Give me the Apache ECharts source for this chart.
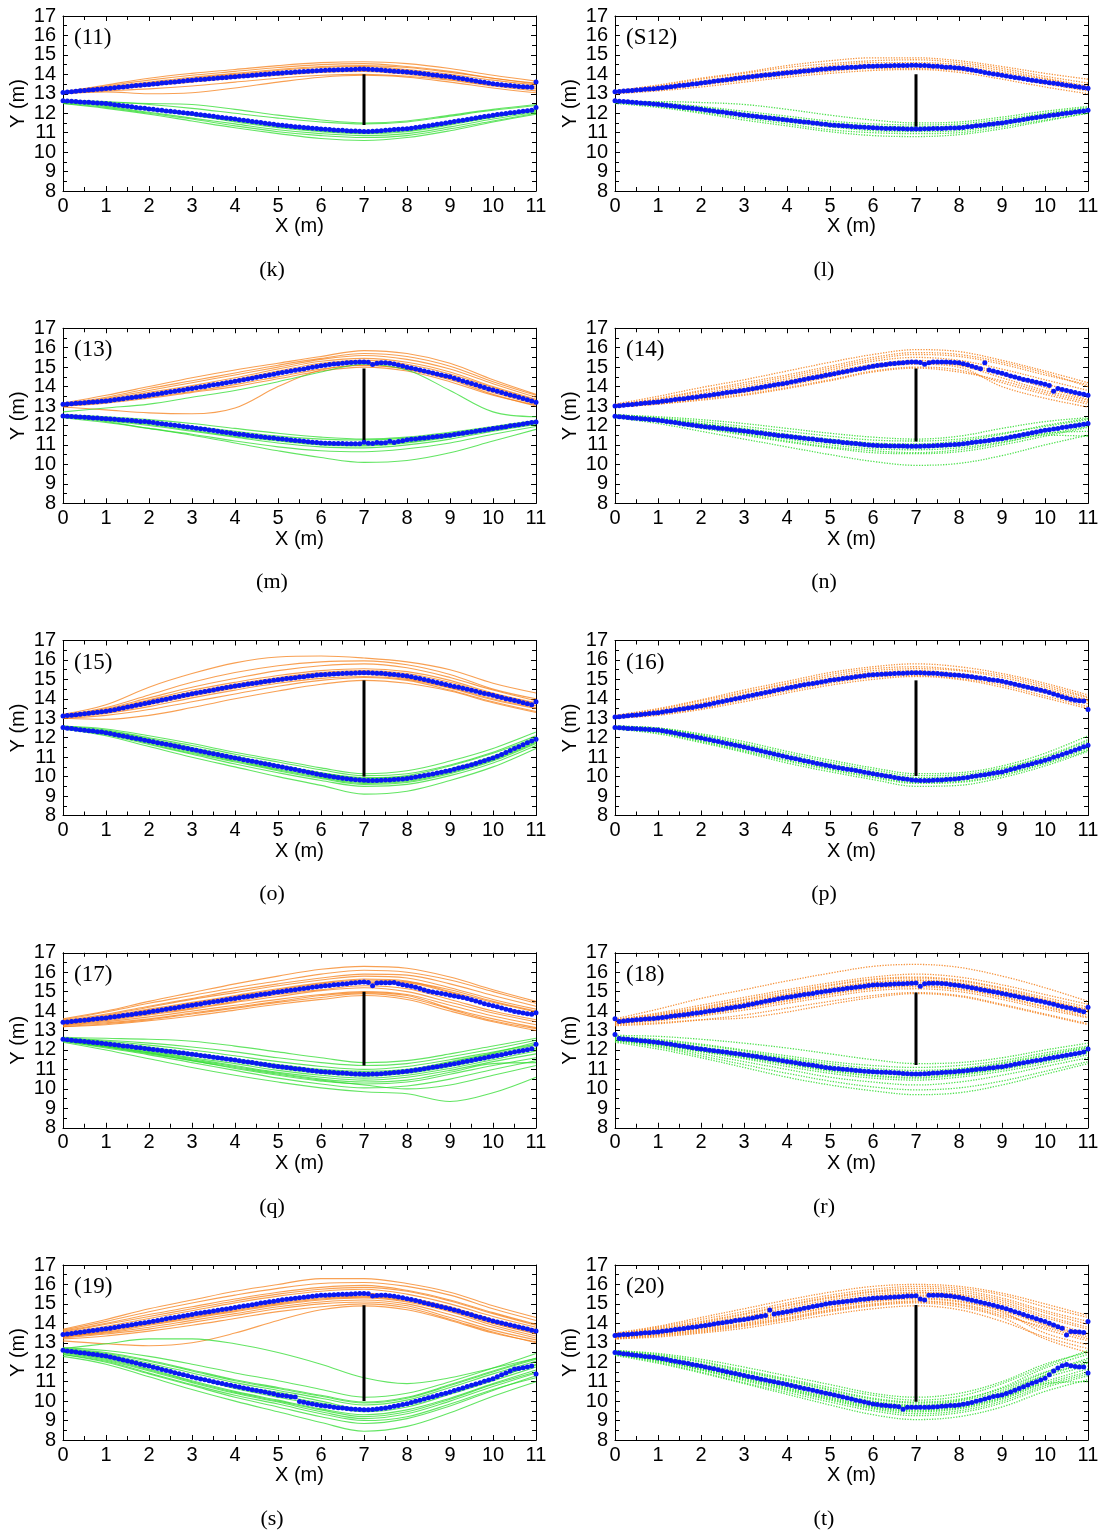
<!DOCTYPE html>
<html><head><meta charset="utf-8">
<script src="https://cdn.jsdelivr.net/npm/echarts@6/dist/echarts.min.js"></script>
<style>html,body{margin:0;padding:0;background:#fff}#c{width:1105px;height:1533px}</style>
</head><body><div id="c"></div><script>
// ---------- shared sample positions ----------
const PATH_X = [0,1,2,3,4,5,6,7,8,9,10,11];
const MEAN_STEP = 0.1;
const X_TICKS = [0,1,2,3,4,5,6,7,8,9,10,11];
const Y_TICKS = [8,9,10,11,12,13,14,15,16,17];

// ---------- panel (k) (11) ----------
const k_bar = [11.4, 14.0];
const k_mean_orange = [
13.07,13.09,13.11,13.13,13.15,13.17,13.19,13.21,13.23,13.25,
13.27,13.29,13.31,13.33,13.35,13.38,13.40,13.42,13.44,13.46,
13.48,13.50,13.52,13.55,13.57,13.59,13.61,13.63,13.66,13.68,
13.70,13.72,13.74,13.75,13.77,13.79,13.81,13.83,13.84,13.86,
13.88,13.90,13.92,13.93,13.95,13.97,13.99,14.01,14.02,14.04,
14.06,14.07,14.09,14.10,14.12,14.13,14.14,14.16,14.17,14.19,
14.20,14.21,14.22,14.22,14.23,14.24,14.25,14.25,14.26,14.27,
14.27,14.26,14.25,14.23,14.22,14.20,14.18,14.16,14.14,14.13,
14.12,14.10,14.08,14.05,14.03,14.00,13.97,13.95,13.92,13.90,
13.87,13.84,13.80,13.77,13.73,13.70,13.66,13.62,13.59,13.55,
13.52,13.49,13.46,13.44,13.42,13.40,13.38,13.36,13.35,13.33,
13.60];
const k_mean_green = [
12.64,12.63,12.61,12.60,12.58,12.57,12.56,12.54,12.53,12.51,
12.50,12.47,12.44,12.41,12.39,12.36,12.33,12.30,12.27,12.25,
12.22,12.20,12.17,12.15,12.12,12.10,12.08,12.05,12.03,12.00,
11.98,11.95,11.92,11.90,11.87,11.84,11.81,11.78,11.76,11.73,
11.70,11.67,11.64,11.61,11.58,11.55,11.52,11.49,11.46,11.43,
11.40,11.38,11.35,11.33,11.31,11.29,11.27,11.25,11.23,11.21,
11.19,11.17,11.16,11.14,11.13,11.12,11.10,11.09,11.08,11.07,
11.06,11.06,11.07,11.08,11.10,11.12,11.14,11.16,11.18,11.19,
11.20,11.23,11.26,11.29,11.33,11.36,11.40,11.43,11.46,11.50,
11.53,11.57,11.61,11.64,11.68,11.72,11.75,11.79,11.83,11.86,
11.90,11.93,11.96,11.99,12.02,12.04,12.07,12.10,12.13,12.15,
12.30];
const k_paths_orange = [
[13.05,13.3,13.55,13.8,14.0,14.2,14.35,14.4,14.25,14.0,13.7,13.45],
[13.1,13.4,13.7,13.95,14.15,14.35,14.5,14.55,14.4,14.15,13.8,13.55],
[13.0,13.2,13.4,13.6,13.8,13.95,14.1,14.15,14.0,13.75,13.45,13.25],
[13.05,13.15,13.25,13.4,13.6,13.8,13.95,14.0,13.9,13.7,13.4,13.15],
[13.1,13.45,13.8,14.05,14.25,14.45,14.6,14.65,14.55,14.3,13.95,13.65],
[13.0,13.1,13.0,13.05,13.3,13.6,13.85,13.95,13.85,13.6,13.3,13.05],
[13.05,13.25,13.5,13.75,13.95,14.1,14.25,14.3,14.2,13.85,13.55,13.35],
[13.1,13.35,13.6,13.85,14.05,14.25,14.4,14.45,14.35,14.1,13.8,13.5]];
const k_paths_green = [
[12.6,12.5,12.25,12.0,11.7,11.4,11.2,11.1,11.25,11.55,11.9,12.2],
[12.55,12.35,12.05,11.75,11.45,11.15,10.95,10.85,10.95,11.3,11.7,12.05],
[12.65,12.6,12.45,12.25,12.0,11.75,11.55,11.45,11.55,11.85,12.15,12.4],
[12.5,12.25,11.95,11.6,11.25,10.95,10.7,10.6,10.75,11.1,11.55,11.95],
[12.6,12.55,12.5,12.45,12.2,11.9,11.65,11.5,11.6,11.9,12.2,12.45],
[12.55,12.4,12.15,11.9,11.6,11.3,11.1,11.0,11.1,11.45,11.8,12.1],
[12.6,12.45,12.2,11.9,11.55,11.25,11.05,10.95,11.05,11.4,11.8,12.15],
[12.5,12.3,12.0,11.7,11.35,11.05,10.85,10.75,10.85,11.2,11.6,12.0]];

// ---------- panel (l) (S12) ----------
const l_bar = [11.3, 14.0];
const l_mean_orange = [
13.10,13.12,13.14,13.15,13.17,13.19,13.21,13.23,13.24,13.26,
13.28,13.31,13.33,13.36,13.39,13.42,13.44,13.47,13.50,13.52,
13.55,13.58,13.61,13.64,13.67,13.70,13.72,13.75,13.78,13.81,
13.84,13.86,13.89,13.91,13.94,13.96,13.98,14.01,14.03,14.06,
14.08,14.10,14.12,14.15,14.17,14.19,14.21,14.23,14.26,14.28,
14.30,14.31,14.33,14.34,14.35,14.36,14.37,14.39,14.40,14.41,
14.42,14.43,14.43,14.44,14.44,14.45,14.45,14.46,14.46,14.47,
14.47,14.46,14.45,14.44,14.42,14.41,14.39,14.37,14.36,14.34,
14.33,14.30,14.26,14.22,14.18,14.14,14.10,14.06,14.02,13.99,
13.95,13.91,13.88,13.84,13.81,13.77,13.74,13.70,13.67,13.63,
13.60,13.57,13.54,13.51,13.48,13.44,13.41,13.38,13.35,13.31,
13.28];
const l_mean_green = [
12.64,12.62,12.60,12.59,12.57,12.55,12.53,12.51,12.50,12.48,
12.46,12.43,12.41,12.38,12.36,12.33,12.30,12.28,12.25,12.23,
12.20,12.17,12.14,12.11,12.08,12.06,12.03,12.00,11.97,11.94,
11.91,11.88,11.86,11.83,11.81,11.78,11.75,11.73,11.70,11.68,
11.65,11.63,11.60,11.58,11.55,11.53,11.50,11.48,11.45,11.43,
11.40,11.38,11.37,11.35,11.34,11.32,11.31,11.29,11.28,11.26,
11.25,11.24,11.23,11.22,11.22,11.21,11.20,11.20,11.19,11.19,
11.19,11.19,11.20,11.20,11.21,11.22,11.22,11.23,11.24,11.24,
11.25,11.27,11.30,11.32,11.35,11.37,11.40,11.43,11.45,11.48,
11.50,11.54,11.57,11.61,11.64,11.68,11.71,11.75,11.78,11.82,
11.85,11.88,11.91,11.94,11.97,12.00,12.03,12.06,12.09,12.12,
12.15];
const l_paths_orange = [
[13.1,13.3,13.6,13.9,14.15,14.35,14.5,14.5,14.4,14.1,13.75,13.35],
[13.15,13.4,13.75,14.05,14.35,14.55,14.7,14.75,14.6,14.3,13.9,13.55],
[13.05,13.2,13.45,13.7,13.95,14.15,14.3,14.3,14.2,13.9,13.5,13.15],
[13.1,13.35,13.65,13.95,14.2,14.45,14.6,14.6,14.5,14.2,13.8,13.4],
[13.0,13.15,13.35,13.6,13.85,14.05,14.2,14.25,14.1,13.75,13.35,13.0],
[13.15,13.45,13.8,14.1,14.45,14.7,14.85,14.85,14.7,14.4,14.05,13.75],
[13.05,13.25,13.5,13.8,14.05,14.25,14.4,14.4,14.3,13.95,13.6,13.25]];
const l_paths_green = [
[12.6,12.45,12.2,11.9,11.65,11.4,11.25,11.2,11.25,11.5,11.85,12.15],
[12.55,12.35,12.05,11.75,11.45,11.15,11.0,10.95,11.0,11.3,11.65,12.0],
[12.65,12.55,12.35,12.1,11.85,11.6,11.45,11.4,11.45,11.7,12.0,12.3],
[12.6,12.6,12.55,12.45,12.2,11.9,11.65,11.5,11.55,11.8,12.1,12.35],
[12.5,12.3,12.0,11.65,11.35,11.05,10.85,10.8,10.9,11.2,11.6,12.0],
[12.6,12.45,12.15,11.85,11.55,11.3,11.1,11.05,11.1,11.4,11.75,12.1],
[12.6,12.5,12.3,12.0,11.75,11.5,11.35,11.3,11.35,11.6,11.95,12.25]];

// ---------- panel (m) (13) ----------
const m_bar = [11.15, 14.93];
const m_mean_orange = [
13.09,13.11,13.12,13.14,13.16,13.17,13.19,13.21,13.22,13.24,
13.26,13.29,13.32,13.35,13.38,13.41,13.44,13.47,13.49,13.52,
13.55,13.59,13.62,13.66,13.69,13.73,13.76,13.80,13.83,13.87,
13.90,13.94,13.98,14.01,14.05,14.09,14.12,14.16,14.20,14.23,
14.27,14.31,14.35,14.39,14.43,14.48,14.52,14.56,14.60,14.64,
14.68,14.72,14.76,14.80,14.84,14.88,14.91,14.95,14.99,15.03,
15.07,15.10,15.13,15.16,15.18,15.20,15.22,15.24,15.25,15.26,
15.27,15.25,15.13,15.20,15.22,15.22,15.20,15.16,15.11,15.06,
15.00,14.95,14.90,14.85,14.80,14.75,14.70,14.65,14.60,14.55,
14.50,14.43,14.36,14.29,14.22,14.16,14.09,14.02,13.95,13.88,
13.82,13.76,13.70,13.63,13.57,13.51,13.45,13.39,13.32,13.26,
13.20];
const m_mean_green = [
12.49,12.48,12.46,12.45,12.43,12.42,12.41,12.39,12.38,12.36,
12.35,12.33,12.32,12.30,12.28,12.27,12.25,12.23,12.21,12.20,
12.18,12.15,12.12,12.09,12.06,12.04,12.01,11.98,11.95,11.92,
11.89,11.86,11.83,11.80,11.77,11.74,11.70,11.67,11.64,11.61,
11.58,11.55,11.53,11.50,11.47,11.45,11.42,11.40,11.37,11.35,
11.32,11.30,11.28,11.25,11.23,11.21,11.19,11.16,11.14,11.12,
11.10,11.09,11.08,11.07,11.07,11.07,11.06,11.06,11.06,11.06,
11.14,11.09,11.07,11.12,11.10,11.11,11.19,11.12,11.18,11.22,
11.27,11.29,11.31,11.34,11.36,11.38,11.41,11.43,11.45,11.48,
11.50,11.53,11.57,11.60,11.64,11.67,11.70,11.74,11.77,11.81,
11.84,11.87,11.91,11.94,11.98,12.01,12.04,12.08,12.11,12.15,
12.18];
const m_paths_orange = [
[13.05,13.25,13.55,13.9,14.25,14.7,15.1,15.25,15.0,14.5,13.85,13.2],
[13.1,13.4,13.8,14.2,14.6,15.0,15.4,15.6,15.4,14.9,14.15,13.45],
[13.0,13.2,13.45,13.75,14.1,14.5,14.9,15.1,14.9,14.4,13.7,13.1],
[13.15,13.55,14.0,14.45,14.85,15.2,15.55,15.85,15.7,15.2,14.35,13.6],
[12.95,12.8,12.65,12.6,12.9,14.0,14.85,15.1,14.9,14.35,13.6,13.0],
[13.05,13.3,13.6,13.95,14.35,14.8,15.2,15.35,15.15,14.65,13.95,13.3],
[13.1,13.35,13.7,14.05,14.45,14.9,15.3,15.45,15.25,14.75,14.0,13.35],
[13.0,13.15,13.4,13.7,14.0,14.4,14.8,15.0,14.8,14.25,13.55,13.05],
[13.1,13.45,13.9,14.3,14.7,15.1,15.45,15.7,15.55,15.05,14.25,13.55]];
const m_paths_green = [
[12.5,12.35,12.15,11.9,11.6,11.35,11.15,11.1,11.25,11.5,11.85,12.15],
[12.45,12.25,12.0,11.7,11.4,11.1,10.9,10.85,11.0,11.3,11.7,12.05],
[12.55,12.45,12.3,12.1,11.85,11.6,11.4,11.3,11.4,11.65,11.95,12.25],
[12.45,12.2,11.85,11.5,11.1,10.7,10.35,10.1,10.2,10.6,11.2,11.8],
[12.5,12.3,12.05,11.75,11.45,11.2,11.0,10.95,11.1,11.4,11.75,12.1],
[12.4,12.15,11.85,11.55,11.2,10.9,10.7,10.65,10.8,11.1,11.55,11.95],
[12.55,12.4,12.2,11.95,11.7,11.45,11.3,11.25,11.35,11.6,11.9,12.2],
[12.7,12.9,13.1,13.45,13.8,14.25,14.75,15.15,14.85,13.8,12.7,12.45],
[12.5,12.3,12.1,11.85,11.55,11.25,11.05,11.0,11.15,11.45,11.8,12.15]];

// ---------- panel (n) (14) ----------
const n_bar = [11.17, 14.93];
const n_mean_orange = [
13.00,13.02,13.04,13.06,13.08,13.10,13.13,13.15,13.17,13.19,
13.21,13.24,13.27,13.30,13.33,13.36,13.38,13.41,13.44,13.47,
13.50,13.53,13.56,13.59,13.62,13.66,13.69,13.72,13.75,13.78,
13.81,13.85,13.89,13.93,13.96,14.00,14.04,14.08,14.12,14.15,
14.19,14.23,14.28,14.32,14.36,14.41,14.45,14.49,14.53,14.58,
14.62,14.66,14.71,14.75,14.79,14.84,14.88,14.92,14.96,15.01,
15.05,15.08,15.11,15.14,15.17,15.19,15.21,15.23,15.25,15.26,
15.27,15.24,15.15,15.22,15.26,15.27,15.27,15.26,15.25,15.24,
15.22,15.17,15.12,15.05,14.98,14.92,15.22,14.85,14.80,14.74,
14.68,14.62,14.55,14.49,14.43,14.36,14.32,14.27,14.22,14.17,
14.12,14.05,13.76,13.90,13.85,13.80,13.75,13.70,13.65,13.60,
13.55];
const n_mean_green = [
12.47,12.45,12.43,12.41,12.39,12.37,12.35,12.33,12.31,12.29,
12.27,12.24,12.21,12.18,12.15,12.12,12.08,12.05,12.02,11.99,
11.96,11.94,11.91,11.89,11.86,11.84,11.82,11.79,11.77,11.74,
11.72,11.69,11.66,11.63,11.61,11.58,11.55,11.52,11.49,11.47,
11.44,11.42,11.39,11.37,11.34,11.32,11.30,11.27,11.25,11.22,
11.20,11.18,11.16,11.13,11.11,11.09,11.07,11.05,11.02,11.00,
10.98,10.97,10.96,10.96,10.95,10.95,10.94,10.94,10.93,10.93,
10.93,10.93,10.94,10.95,10.96,10.97,10.98,10.99,11.01,11.02,
11.03,11.06,11.09,11.12,11.15,11.18,11.20,11.23,11.26,11.29,
11.32,11.36,11.41,11.45,11.49,11.54,11.58,11.62,11.66,11.71,
11.75,11.78,11.82,11.85,11.89,11.92,11.96,11.99,12.03,12.06,
12.10];
const n_paths_orange = [
[13.0,13.2,13.5,13.8,14.2,14.6,15.05,15.25,15.2,14.7,14.15,13.5],
[13.05,13.35,13.75,14.1,14.5,14.95,15.4,15.65,15.55,15.15,14.6,14.1],
[12.95,13.1,13.35,13.6,13.95,14.35,14.8,15.0,14.85,14.2,13.6,13.1],
[13.1,13.5,13.95,14.35,14.8,15.25,15.65,15.9,15.8,15.35,14.8,14.2],
[13.0,13.25,13.55,13.9,14.3,14.75,15.15,15.35,15.1,14.45,13.8,13.3],
[12.95,13.15,13.4,13.7,14.05,14.5,14.95,15.15,15.0,14.0,13.4,12.95],
[13.05,13.3,13.65,14.0,14.4,14.85,15.3,15.5,15.35,14.9,14.35,13.8],
[13.0,13.2,13.45,13.75,14.15,14.55,15.0,15.2,15.1,14.6,13.95,13.35],
[13.05,13.4,13.8,14.2,14.6,15.05,15.5,15.75,15.65,15.25,14.7,14.0],
[12.95,13.1,13.3,13.55,13.9,14.3,14.75,14.95,14.75,14.3,13.7,13.2]];
const n_paths_green = [
[12.5,12.3,12.0,11.75,11.45,11.2,11.0,10.95,11.05,11.35,11.75,12.1],
[12.45,12.2,11.85,11.5,11.15,10.85,10.6,10.55,10.65,11.0,11.45,11.9],
[12.55,12.4,12.2,11.95,11.7,11.45,11.25,11.2,11.3,11.6,11.95,12.3],
[12.4,12.1,11.7,11.3,10.9,10.5,10.15,9.95,10.05,10.45,11.0,11.5],
[12.5,12.35,12.1,11.85,11.55,11.3,11.1,11.05,11.2,11.55,12.0,12.35],
[12.45,12.25,11.95,11.6,11.3,11.0,10.8,10.75,10.85,11.15,11.55,11.95],
[12.55,12.45,12.3,12.1,11.85,11.6,11.4,11.3,11.45,11.85,12.2,12.4],
[12.5,12.3,12.05,11.7,11.4,11.1,10.9,10.85,10.95,11.25,11.6,11.7],
[12.45,12.2,11.9,11.55,11.2,10.9,10.7,10.6,10.75,11.1,11.5,11.45],
[12.5,12.35,12.1,11.8,11.5,11.25,11.05,11.0,11.1,11.4,11.8,12.2]];

// ---------- panel (o) (15) ----------
const o_bar = [10.0, 14.95];
const o_mean_orange = [
13.12,13.14,13.16,13.18,13.21,13.23,13.26,13.29,13.31,13.33,
13.36,13.40,13.44,13.49,13.53,13.58,13.62,13.67,13.71,13.76,
13.80,13.85,13.89,13.94,13.98,14.03,14.08,14.12,14.17,14.21,
14.26,14.30,14.34,14.38,14.42,14.46,14.50,14.54,14.58,14.62,
14.66,14.69,14.73,14.76,14.79,14.82,14.85,14.89,14.92,14.95,
14.98,15.01,15.04,15.06,15.09,15.12,15.14,15.17,15.19,15.22,
15.24,15.25,15.27,15.28,15.29,15.30,15.31,15.32,15.33,15.34,
15.34,15.34,15.33,15.32,15.31,15.29,15.27,15.25,15.22,15.20,
15.17,15.13,15.09,15.04,14.99,14.94,14.89,14.84,14.79,14.74,
14.69,14.64,14.59,14.54,14.49,14.44,14.39,14.33,14.28,14.23,
14.18,14.12,14.07,14.01,13.96,13.91,13.86,13.80,13.75,13.70,
13.85];
const o_mean_green = [
12.52,12.49,12.47,12.44,12.41,12.39,12.36,12.34,12.31,12.29,
12.26,12.22,12.17,12.13,12.09,12.05,12.00,11.96,11.92,11.87,
11.83,11.79,11.74,11.70,11.66,11.62,11.57,11.53,11.49,11.44,
11.40,11.36,11.31,11.27,11.22,11.18,11.14,11.09,11.05,11.00,
10.96,10.92,10.87,10.83,10.79,10.75,10.70,10.66,10.62,10.57,
10.53,10.49,10.44,10.40,10.36,10.32,10.27,10.23,10.19,10.14,
10.10,10.06,10.02,9.98,9.95,9.92,9.89,9.86,9.84,9.82,
9.81,9.80,9.80,9.80,9.81,9.82,9.83,9.85,9.86,9.88,
9.90,9.94,9.98,10.02,10.06,10.10,10.14,10.19,10.23,10.28,
10.32,10.38,10.44,10.50,10.55,10.61,10.68,10.75,10.82,10.89,
10.96,11.05,11.14,11.24,11.34,11.44,11.54,11.64,11.74,11.83,
11.92];
const o_paths_orange = [
[13.1,13.35,13.8,14.25,14.65,15.0,15.25,15.35,15.15,14.7,14.1,13.65],
[13.15,13.5,14.05,14.6,15.05,15.45,15.7,15.8,15.6,15.1,14.45,13.9],
[13.05,13.25,13.6,14.05,14.45,14.8,15.05,15.15,15.0,14.55,13.95,13.5],
[13.2,13.7,14.6,15.3,15.85,16.15,16.2,16.1,15.9,15.5,14.8,14.3],
[13.0,12.95,13.15,13.55,14.0,14.4,14.75,14.95,14.8,14.4,13.8,13.3],
[13.1,13.4,13.9,14.35,14.75,15.1,15.35,15.45,15.3,14.85,14.25,13.75],
[13.15,13.55,14.2,14.85,15.35,15.7,15.9,15.95,15.75,15.25,14.5,14.0],
[13.05,13.3,13.7,14.15,14.55,14.9,15.15,15.25,15.05,14.6,14.0,13.55],
[13.1,13.45,13.95,14.45,14.85,15.2,15.45,15.55,15.4,14.95,14.3,13.8],
[13.0,13.15,13.45,13.85,14.25,14.65,14.95,15.1,14.95,14.45,13.85,13.35]];
const o_paths_green = [
[12.55,12.3,11.85,11.4,10.95,10.55,10.15,9.85,9.95,10.35,11.0,11.9],
[12.5,12.2,11.7,11.2,10.75,10.3,9.9,9.6,9.7,10.15,10.8,11.7],
[12.6,12.4,12.0,11.6,11.15,10.75,10.35,10.05,10.15,10.6,11.25,12.1],
[12.45,12.1,11.55,11.0,10.5,10.0,9.55,9.1,9.25,9.8,10.5,11.45],
[12.55,12.35,11.95,11.5,11.05,10.6,10.2,9.9,10.05,10.55,11.2,12.0],
[12.5,12.25,11.8,11.3,10.85,10.4,10.0,9.7,9.8,10.25,10.9,11.8],
[12.6,12.45,12.1,11.7,11.25,10.85,10.45,10.15,10.3,10.8,11.45,12.3],
[12.45,12.15,11.65,11.15,10.65,10.2,9.8,9.5,9.6,10.05,10.7,11.6],
[12.55,12.3,11.9,11.45,11.0,10.6,10.2,9.95,10.0,10.4,11.05,11.95],
[12.5,12.2,11.75,11.25,10.8,10.35,9.95,9.65,9.75,10.2,10.85,11.75]];

// ---------- panel (p) (16) ----------
const p_bar = [10.03, 14.95];
const p_mean_orange = [
13.06,13.08,13.10,13.13,13.15,13.17,13.20,13.22,13.24,13.27,
13.29,13.32,13.36,13.39,13.43,13.46,13.49,13.53,13.56,13.60,
13.63,13.68,13.72,13.77,13.82,13.86,13.91,13.95,14.00,14.04,
14.09,14.14,14.18,14.23,14.28,14.33,14.37,14.42,14.47,14.51,
14.56,14.60,14.64,14.68,14.72,14.76,14.79,14.83,14.87,14.91,
14.95,14.98,15.01,15.04,15.07,15.10,15.13,15.16,15.19,15.22,
15.24,15.25,15.27,15.28,15.29,15.30,15.31,15.32,15.33,15.34,
15.34,15.34,15.33,15.32,15.31,15.30,15.28,15.26,15.24,15.23,
15.21,15.19,15.16,15.13,15.10,15.07,15.04,15.00,14.97,14.94,
14.90,14.85,14.80,14.75,14.70,14.65,14.60,14.55,14.49,14.44,
14.39,14.32,14.25,14.18,14.11,14.04,13.98,13.93,13.90,13.89,
13.45];
const p_mean_green = [
12.52,12.51,12.50,12.48,12.47,12.46,12.45,12.44,12.42,12.41,
12.40,12.36,12.32,12.28,12.24,12.19,12.15,12.11,12.07,12.02,
11.98,11.93,11.89,11.84,11.80,11.75,11.70,11.66,11.61,11.57,
11.52,11.47,11.42,11.37,11.32,11.26,11.21,11.16,11.11,11.06,
11.01,10.96,10.92,10.87,10.82,10.78,10.73,10.68,10.63,10.59,
10.54,10.50,10.46,10.42,10.38,10.35,10.31,10.27,10.23,10.19,
10.15,10.11,10.07,10.03,10.00,9.96,9.92,9.89,9.86,9.83,
9.81,9.80,9.80,9.80,9.81,9.82,9.83,9.85,9.86,9.88,
9.90,9.93,9.96,10.00,10.03,10.07,10.10,10.14,10.17,10.21,
10.24,10.30,10.36,10.42,10.48,10.54,10.60,10.66,10.72,10.78,
10.84,10.91,10.99,11.06,11.14,11.21,11.29,11.37,11.45,11.53,
11.61];
const p_paths_orange = [
[13.05,13.3,13.65,14.1,14.55,14.95,15.25,15.35,15.2,14.9,14.4,13.9],
[13.1,13.4,13.8,14.3,14.75,15.15,15.45,15.55,15.45,15.1,14.6,14.05],
[13.0,13.2,13.5,13.95,14.4,14.8,15.1,15.2,15.05,14.7,14.15,13.6],
[13.15,13.5,13.95,14.45,14.9,15.35,15.65,15.8,15.65,15.3,14.8,14.2],
[13.05,13.25,13.6,14.05,14.5,14.9,15.2,15.3,15.15,14.8,14.3,13.75],
[13.1,13.35,13.75,14.2,14.65,15.05,15.35,15.45,15.3,14.95,14.5,13.95],
[13.0,13.15,13.45,13.85,14.3,14.7,15.0,15.15,15.0,14.6,14.05,13.5],
[13.1,13.45,13.9,14.35,14.8,15.25,15.55,15.65,15.5,15.2,14.7,14.1]];
const p_paths_green = [
[12.55,12.4,12.0,11.55,11.0,10.55,10.15,9.85,9.9,10.25,10.85,11.65],
[12.5,12.3,11.85,11.35,10.85,10.4,10.0,9.7,9.75,10.1,10.7,11.45],
[12.6,12.5,12.15,11.7,11.2,10.75,10.35,10.05,10.1,10.45,11.05,11.9],
[12.45,12.2,11.75,11.25,10.7,10.25,9.85,9.5,9.55,9.95,10.55,11.3],
[12.55,12.45,12.1,11.65,11.1,10.65,10.25,9.95,10.0,10.4,11.0,11.8],
[12.5,12.35,11.95,11.45,10.95,10.5,10.1,9.8,9.85,10.2,10.8,11.55],
[12.6,12.5,12.2,11.8,11.3,10.85,10.45,10.15,10.2,10.55,11.2,12.1],
[12.45,12.25,11.8,11.3,10.8,10.35,9.95,9.65,9.7,10.05,10.65,11.35]];

// ---------- panel (q) (17) ----------
const q_bar = [11.2, 15.0];
const q_mean_orange = [
13.42,13.44,13.47,13.49,13.51,13.53,13.56,13.58,13.60,13.63,
13.65,13.68,13.71,13.74,13.77,13.80,13.83,13.86,13.89,13.92,
13.95,13.99,14.02,14.06,14.09,14.13,14.16,14.20,14.23,14.27,
14.30,14.34,14.37,14.41,14.44,14.48,14.51,14.55,14.58,14.62,
14.65,14.68,14.72,14.75,14.78,14.82,14.85,14.88,14.91,14.95,
14.98,15.01,15.04,15.07,15.10,15.13,15.16,15.19,15.22,15.25,
15.28,15.30,15.32,15.35,15.37,15.39,15.41,15.44,15.46,15.48,
15.50,15.47,15.30,15.44,15.46,15.46,15.46,15.47,15.40,15.36,
15.32,15.28,15.22,15.16,15.08,15.02,14.98,14.94,14.90,14.86,
14.82,14.78,14.74,14.70,14.65,14.58,14.52,14.45,14.38,14.32,
14.28,14.22,14.16,14.10,14.04,13.98,13.94,13.90,13.86,13.84,
13.92];
const q_mean_green = [
12.55,12.53,12.50,12.48,12.46,12.44,12.41,12.39,12.37,12.34,
12.32,12.29,12.27,12.24,12.21,12.19,12.16,12.13,12.11,12.08,
12.05,12.02,12.00,11.97,11.94,11.92,11.89,11.86,11.84,11.81,
11.78,11.75,11.72,11.69,11.66,11.63,11.60,11.57,11.54,11.51,
11.48,11.45,11.41,11.38,11.35,11.32,11.28,11.25,11.22,11.18,
11.15,11.12,11.10,11.07,11.04,11.02,10.99,10.96,10.93,10.91,
10.88,10.87,10.85,10.84,10.82,10.81,10.80,10.78,10.77,10.76,
10.75,10.75,10.76,10.77,10.78,10.80,10.82,10.84,10.86,10.88,
10.90,10.93,10.97,11.00,11.04,11.07,11.11,11.14,11.18,11.21,
11.25,11.29,11.33,11.38,11.42,11.46,11.51,11.55,11.59,11.64,
11.68,11.72,11.76,11.80,11.85,11.89,11.93,11.97,12.01,12.06,
12.30];
const q_paths_orange = [
[13.4,13.6,13.9,14.25,14.6,14.95,15.25,15.45,15.35,14.8,14.25,13.8],
[13.3,13.45,13.7,14.0,14.3,14.6,14.85,15.0,14.85,14.3,13.75,13.3],
[13.5,13.8,14.2,14.6,14.95,15.3,15.6,15.8,15.7,15.2,14.6,14.1],
[13.2,13.3,13.5,13.75,14.05,14.35,14.6,14.8,14.6,14.0,13.45,13.0],
[13.55,13.95,14.4,14.8,15.2,15.55,15.9,16.1,16.0,15.6,15.0,14.4],
[13.35,13.55,13.85,14.15,14.5,14.85,15.1,15.3,15.15,14.6,14.0,13.55],
[13.45,13.75,14.1,14.45,14.8,15.15,15.45,15.65,15.55,15.0,14.45,13.95],
[13.25,13.4,13.6,13.9,14.2,14.5,14.8,14.95,14.8,14.15,13.6,13.15],
[13.6,14.0,14.5,14.95,15.4,15.8,16.15,16.3,16.2,15.75,15.1,14.5],
[13.4,13.65,13.95,14.3,14.65,15.0,15.3,15.5,15.45,14.95,14.3,13.85],
[13.3,13.5,13.8,14.1,14.45,14.75,15.05,15.2,15.0,14.45,13.9,13.45],
[13.5,13.85,14.25,14.65,15.05,15.4,15.7,15.9,15.85,15.4,14.8,14.25],
[13.2,13.35,13.55,13.85,14.15,14.45,14.7,14.9,14.7,14.1,13.5,13.1],
[13.45,13.7,14.05,14.4,14.75,15.1,15.4,15.6,15.5,15.1,14.5,14.0]];
const q_paths_green = [
[12.55,12.3,12.05,11.75,11.45,11.1,10.85,10.7,10.85,11.25,11.65,12.05],
[12.5,12.2,11.9,11.55,11.2,10.85,10.6,10.45,10.6,10.95,11.4,11.8],
[12.6,12.45,12.25,12.0,11.7,11.4,11.15,11.0,11.15,11.5,11.9,12.3],
[12.45,12.1,11.75,11.35,10.95,10.55,10.25,10.05,10.15,10.5,11.0,11.45],
[12.65,12.6,12.55,12.45,12.2,11.9,11.6,11.35,11.45,11.8,12.2,12.6],
[12.5,12.25,11.95,11.6,11.3,10.95,10.7,10.55,10.7,11.05,11.5,11.95],
[12.4,12.0,11.55,11.1,10.7,10.35,10.05,9.85,9.75,9.35,9.8,10.6],
[12.55,12.35,12.1,11.8,11.5,11.2,10.95,10.8,10.95,11.35,11.8,12.25],
[12.5,12.15,11.8,11.45,11.05,10.7,10.4,10.25,10.35,10.75,11.2,11.6],
[12.6,12.4,12.15,11.85,11.55,11.25,11.0,10.9,11.0,11.4,11.85,12.4],
[12.45,12.15,11.85,11.5,11.15,10.8,10.5,10.35,10.45,10.85,11.3,11.35],
[12.55,12.3,12.0,11.7,11.4,11.05,10.8,10.65,10.8,11.15,11.6,12.1],
[12.6,12.5,12.35,12.15,11.9,11.6,11.35,11.2,11.3,11.65,12.05,12.5],
[12.5,12.2,11.85,11.45,11.1,10.75,10.45,10.2,10.0,10.2,10.7,11.2]];

// ---------- panel (r) (18) ----------
const r_bar = [11.23, 14.96];
const r_mean_orange = [
13.60,13.47,13.49,13.51,13.53,13.55,13.57,13.59,13.60,13.62,
13.64,13.67,13.70,13.73,13.76,13.79,13.81,13.84,13.87,13.90,
13.93,13.96,14.00,14.03,14.07,14.10,14.14,14.17,14.21,14.24,
14.28,14.32,14.36,14.41,14.45,14.50,14.54,14.58,14.63,14.67,
14.71,14.74,14.78,14.81,14.85,14.88,14.91,14.95,14.98,15.02,
15.05,15.08,15.11,15.14,15.17,15.20,15.22,15.25,15.28,15.31,
15.34,15.35,15.36,15.37,15.38,15.39,15.40,15.41,15.42,15.43,
15.44,15.28,15.40,15.43,15.43,15.43,15.42,15.40,15.37,15.34,
15.31,15.28,15.24,15.20,15.16,15.11,15.07,15.03,14.99,14.95,
14.91,14.86,14.82,14.77,14.72,14.68,14.63,14.59,14.54,14.50,
14.45,14.40,14.35,14.29,14.24,14.19,14.14,14.08,14.03,13.97,
14.20];
const r_mean_green = [
12.80,12.59,12.57,12.55,12.52,12.50,12.48,12.46,12.43,12.41,
12.39,12.36,12.32,12.29,12.25,12.22,12.19,12.15,12.12,12.08,
12.05,12.02,11.99,11.96,11.93,11.91,11.88,11.85,11.82,11.79,
11.76,11.73,11.69,11.66,11.62,11.59,11.55,11.52,11.48,11.45,
11.41,11.38,11.34,11.31,11.27,11.24,11.21,11.17,11.14,11.10,
11.07,11.05,11.03,11.01,10.99,10.97,10.95,10.93,10.91,10.89,
10.88,10.87,10.86,10.85,10.84,10.83,10.81,10.79,10.78,10.77,
10.76,10.77,10.78,10.79,10.81,10.82,10.84,10.85,10.87,10.88,
10.90,10.92,10.95,10.97,11.00,11.02,11.04,11.07,11.09,11.12,
11.14,11.18,11.22,11.26,11.30,11.34,11.38,11.42,11.46,11.49,
11.53,11.57,11.61,11.65,11.69,11.73,11.77,11.81,11.85,11.89,
12.05];
const r_paths_orange = [
[13.45,13.65,13.95,14.3,14.7,15.05,15.35,15.45,15.3,14.9,14.45,13.95],
[13.35,13.5,13.75,14.05,14.4,14.75,15.05,15.15,15.0,14.6,14.1,13.65],
[13.55,13.85,14.2,14.6,15.0,15.35,15.65,15.75,15.6,15.2,14.7,14.2],
[13.25,13.35,13.55,13.8,14.15,14.5,14.8,14.95,14.8,14.35,13.85,13.35],
[13.6,14.1,14.65,15.1,15.55,15.95,16.3,16.4,16.25,15.8,15.2,14.5],
[13.4,13.6,13.85,14.2,14.55,14.9,15.2,15.3,15.15,14.75,14.25,13.8],
[13.5,13.75,14.1,14.45,14.85,15.2,15.5,15.6,15.45,15.05,14.55,14.05],
[13.3,13.4,13.55,13.65,13.95,14.35,14.7,14.9,14.75,14.3,13.8,13.3],
[13.45,13.7,14.05,14.4,14.8,15.15,15.45,15.55,15.4,15.0,14.5,14.0],
[13.55,13.9,14.3,14.7,15.1,15.45,15.75,15.9,15.75,15.35,14.85,14.35],
[13.35,13.55,13.8,14.15,14.5,14.85,15.15,15.25,15.1,14.7,14.2,13.7],
[13.5,13.8,14.15,14.55,14.9,15.3,15.6,15.7,15.55,15.15,14.6,14.1]];
const r_paths_green = [
[12.6,12.4,12.05,11.75,11.4,11.05,10.85,10.75,10.9,11.15,11.55,11.95],
[12.5,12.25,11.9,11.55,11.15,10.8,10.55,10.45,10.6,10.9,11.3,11.75],
[12.7,12.55,12.3,12.0,11.7,11.4,11.2,11.1,11.2,11.45,11.85,12.2],
[12.45,12.15,11.7,11.25,10.8,10.4,10.1,9.95,10.05,10.4,10.9,11.4],
[12.75,12.7,12.55,12.35,12.1,11.8,11.5,11.3,11.35,11.6,12.0,12.35],
[12.55,12.3,11.95,11.6,11.25,10.9,10.65,10.55,10.7,11.0,11.4,11.85],
[12.4,12.05,11.6,11.1,10.6,10.2,9.9,9.7,9.8,10.2,10.75,11.3],
[12.6,12.45,12.15,11.85,11.55,11.2,10.95,10.85,11.0,11.3,11.7,12.1],
[12.5,12.2,11.8,11.4,11.0,10.6,10.35,10.2,10.35,10.7,11.15,11.6],
[12.65,12.5,12.25,11.95,11.6,11.3,11.05,10.95,11.05,11.35,11.75,12.15],
[12.5,12.3,11.95,11.65,11.3,10.95,10.7,10.6,10.75,11.05,11.5,11.9],
[12.55,12.35,12.0,11.7,11.35,11.0,10.8,10.7,10.8,11.1,11.5,11.95]];

// ---------- panel (s) (19) ----------
const s_bar = [10.0, 14.93];
const s_mean_orange = [
13.42,13.45,13.48,13.51,13.54,13.57,13.60,13.63,13.66,13.69,
13.72,13.75,13.79,13.82,13.86,13.89,13.93,13.96,14.00,14.03,
14.07,14.11,14.15,14.19,14.23,14.27,14.30,14.34,14.38,14.42,
14.46,14.50,14.53,14.57,14.60,14.64,14.67,14.71,14.74,14.78,
14.81,14.85,14.89,14.92,14.96,15.00,15.04,15.07,15.11,15.14,
15.18,15.21,15.24,15.26,15.29,15.31,15.34,15.37,15.39,15.42,
15.44,15.45,15.46,15.47,15.48,15.49,15.50,15.51,15.52,15.53,
15.53,15.52,15.40,15.43,15.44,15.44,15.42,15.39,15.35,15.31,
15.27,15.22,15.17,15.12,15.06,15.01,14.96,14.91,14.85,14.80,
14.75,14.69,14.63,14.56,14.50,14.44,14.37,14.31,14.25,14.18,
14.12,14.07,14.02,13.97,13.92,13.86,13.81,13.76,13.71,13.65,
13.60];
const s_mean_green = [
12.61,12.58,12.55,12.52,12.49,12.47,12.44,12.41,12.38,12.35,
12.32,12.27,12.22,12.16,12.11,12.06,12.01,11.96,11.90,11.85,
11.80,11.74,11.69,11.63,11.58,11.52,11.46,11.41,11.35,11.30,
11.24,11.19,11.14,11.10,11.05,11.00,10.95,10.90,10.86,10.81,
10.76,10.72,10.68,10.63,10.59,10.55,10.51,10.47,10.42,10.38,
10.32,10.29,10.26,10.23,10.21,9.98,9.94,9.89,9.85,9.81,
9.78,9.75,9.72,9.69,9.66,9.64,9.62,9.60,9.58,9.57,
9.56,9.56,9.57,9.59,9.62,9.65,9.69,9.73,9.78,9.82,
9.87,9.93,9.99,10.05,10.11,10.17,10.23,10.29,10.35,10.41,
10.47,10.54,10.61,10.68,10.75,10.81,10.88,10.95,11.02,11.08,
11.15,11.25,11.35,11.45,11.55,11.65,11.68,11.72,11.76,11.80,
11.40];
const s_paths_orange = [
[13.45,13.75,14.1,14.5,14.85,15.2,15.45,15.55,15.3,14.8,14.15,13.6],
[13.3,13.5,13.8,14.15,14.5,14.85,15.1,15.2,15.0,14.45,13.8,13.25],
[13.6,14.0,14.45,14.85,15.25,15.6,15.85,15.95,15.7,15.2,14.55,13.95],
[13.2,13.35,13.6,13.9,14.25,14.6,14.85,15.0,14.8,14.2,13.55,13.0],
[13.7,14.2,14.75,15.2,15.65,16.0,16.3,16.3,16.05,15.6,14.9,14.3],
[13.4,13.65,14.0,14.35,14.7,15.05,15.3,15.4,15.2,14.7,14.0,13.45],
[13.1,12.95,12.85,13.0,13.5,14.15,14.7,14.9,14.7,14.15,13.5,13.05],
[13.5,13.85,14.25,14.65,15.05,15.4,15.65,15.75,15.5,15.0,14.35,13.8],
[13.35,13.55,13.9,14.25,14.6,14.95,15.2,15.3,15.1,14.6,13.9,13.35],
[13.55,13.95,14.35,14.75,15.15,15.5,15.75,15.85,15.65,15.15,14.5,13.9],
[13.25,13.45,13.7,14.05,14.4,14.75,15.0,15.1,14.9,14.3,13.65,13.15],
[13.65,14.1,14.6,15.05,15.45,15.8,16.05,16.1,15.9,15.45,14.75,14.15],
[13.45,13.7,14.05,14.4,14.8,15.15,15.4,15.5,15.3,14.85,14.2,13.7],
[13.3,13.6,13.95,14.3,14.65,15.0,15.25,15.35,15.15,14.65,14.0,13.5]];
const s_paths_green = [
[12.6,12.35,11.85,11.3,10.8,10.45,10.0,9.6,9.9,10.5,11.2,11.85],
[12.5,12.2,11.65,11.05,10.5,10.05,9.6,9.3,9.55,10.15,10.9,11.6],
[12.7,12.5,12.1,11.6,11.1,10.7,10.3,9.95,10.2,10.85,11.55,12.2],
[12.4,12.0,11.4,10.8,10.2,9.7,9.2,8.85,9.1,9.75,10.55,11.3],
[12.7,12.95,13.2,13.2,12.95,12.5,11.9,11.2,10.9,11.2,11.7,12.2],
[12.55,12.25,11.75,11.2,10.65,10.2,9.8,9.45,9.7,10.35,11.05,11.75],
[12.3,11.9,11.25,10.6,10.0,9.45,8.9,8.45,8.7,9.4,10.25,11.0],
[12.6,12.4,11.95,11.45,10.95,10.55,10.15,9.8,10.05,10.7,11.4,12.05],
[12.45,12.1,11.55,10.95,10.4,9.95,9.45,9.1,9.35,10.0,10.75,11.45],
[12.65,12.45,12.05,11.55,11.05,10.65,10.25,9.9,10.15,10.8,11.5,12.15],
[12.5,12.15,11.6,11.0,10.45,10.0,9.55,9.2,9.45,10.1,10.85,11.5],
[12.6,12.3,11.8,11.25,10.7,10.3,9.9,9.55,9.8,10.45,11.15,11.9],
[12.75,12.6,12.3,11.9,11.45,11.05,10.6,10.2,10.4,11.0,11.7,12.45],
[12.4,12.05,11.45,10.85,10.3,9.85,9.35,9.0,9.2,9.85,10.6,11.2]];

// ---------- panel (t) (20) ----------
const t_bar = [9.97, 14.94];
const t_mean_orange = [
13.38,13.40,13.42,13.43,13.45,13.47,13.49,13.51,13.52,13.54,
13.56,13.59,13.62,13.65,13.68,13.71,13.74,13.77,13.80,13.83,
13.86,13.89,13.93,13.96,14.00,14.03,14.07,14.10,14.14,14.17,
14.20,14.24,14.28,14.32,14.36,14.40,14.69,14.48,14.52,14.56,
14.60,14.64,14.69,14.73,14.77,14.82,14.86,14.90,14.94,14.99,
15.03,15.06,15.08,15.11,15.14,15.16,15.19,15.22,15.24,15.27,
15.29,15.30,15.32,15.33,15.34,15.36,15.37,15.38,15.40,15.41,
15.42,15.25,15.20,15.44,15.45,15.45,15.44,15.42,15.40,15.37,
15.34,15.29,15.24,15.19,15.14,15.08,15.03,14.98,14.93,14.87,
14.82,14.75,14.67,14.60,14.53,14.46,14.38,14.31,14.24,14.16,
14.09,14.00,13.92,13.83,13.75,13.40,13.58,13.57,13.55,13.53,
14.10];
const t_mean_green = [
12.50,12.47,12.44,12.42,12.39,12.36,12.33,12.30,12.28,12.25,
12.22,12.18,12.14,12.09,12.05,12.01,11.97,11.93,11.88,11.84,
11.80,11.75,11.70,11.66,11.61,11.56,11.51,11.46,11.42,11.37,
11.32,11.27,11.23,11.18,11.13,11.09,11.04,10.99,10.94,10.90,
10.85,10.80,10.75,10.70,10.65,10.61,10.56,10.51,10.46,10.41,
10.36,10.31,10.26,10.21,10.16,10.11,10.05,10.00,9.95,9.90,
9.85,9.82,9.79,9.77,9.75,9.73,9.71,9.58,9.69,9.68,
9.68,9.68,9.69,9.69,9.70,9.71,9.73,9.75,9.77,9.78,
9.80,9.84,9.88,9.93,9.99,10.05,10.11,10.17,10.24,10.27,
10.31,10.39,10.47,10.56,10.65,10.74,10.83,10.92,11.00,11.09,
11.17,11.35,11.55,11.70,11.82,11.88,11.82,11.78,11.75,11.75,
11.45];
const t_paths_orange = [
[13.35,13.55,13.85,14.2,14.6,15.0,15.3,15.45,15.35,14.85,14.1,13.5],
[13.25,13.4,13.65,13.95,14.3,14.7,15.0,15.15,15.0,14.5,13.7,13.1],
[13.45,13.75,14.1,14.5,14.95,15.35,15.65,15.8,15.7,15.3,14.65,14.1],
[13.2,13.3,13.5,13.75,14.1,14.45,14.75,14.9,14.7,14.1,13.3,12.7],
[13.5,13.85,14.3,14.75,15.2,15.6,15.9,16.0,15.9,15.55,15.0,14.4],
[13.3,13.5,13.75,14.1,14.45,14.85,15.15,15.3,15.15,14.65,13.9,13.3],
[13.4,13.65,14.0,14.35,14.8,15.2,15.5,15.6,15.5,15.1,14.4,13.8],
[13.2,13.35,13.55,13.85,14.2,14.6,14.9,15.05,14.85,14.3,13.2,12.5],
[13.45,13.8,14.2,14.6,15.05,15.45,15.75,15.9,15.8,15.45,14.85,14.3],
[13.3,13.45,13.7,14.0,14.4,14.8,15.1,15.25,15.1,14.6,13.5,12.9],
[13.35,13.6,13.9,14.3,14.7,15.1,15.4,15.55,15.45,15.0,14.3,13.7],
[13.25,13.4,13.6,13.9,14.25,14.65,14.95,15.1,14.95,14.4,13.8,13.2],
[13.4,13.7,14.05,14.45,14.9,15.3,15.6,15.7,15.6,15.2,14.55,13.95],
[13.3,13.5,13.8,14.15,14.55,14.95,15.25,15.4,15.25,14.75,13.95,13.4]];
const t_paths_green = [
[12.5,12.2,11.8,11.3,10.85,10.35,9.9,9.7,9.85,10.35,11.2,11.8],
[12.4,12.05,11.6,11.1,10.6,10.1,9.65,9.45,9.6,10.1,10.9,11.5],
[12.55,12.35,12.0,11.55,11.1,10.6,10.15,9.95,10.1,10.65,11.5,12.1],
[12.35,11.95,11.45,10.9,10.35,9.8,9.3,9.05,9.2,9.7,10.5,11.1],
[12.6,12.45,12.15,11.75,11.3,10.85,10.4,10.2,10.4,11.0,11.9,12.5],
[12.45,12.15,11.7,11.2,10.7,10.2,9.75,9.55,9.7,10.2,11.0,11.65],
[12.5,12.25,11.85,11.4,10.95,10.45,10.0,9.8,10.0,10.55,11.45,12.2],
[12.4,12.0,11.5,10.95,10.45,9.95,9.5,9.25,9.4,9.9,10.7,11.3],
[12.55,12.3,11.9,11.5,11.05,10.55,10.1,9.9,10.05,10.7,11.7,12.4],
[12.45,12.1,11.65,11.15,10.65,10.15,9.7,9.5,9.65,10.15,10.9,11.0],
[12.5,12.2,11.75,11.25,10.8,10.3,9.85,9.65,9.8,10.4,11.3,11.95],
[12.6,12.4,12.05,11.6,11.15,10.7,10.3,10.05,10.25,10.9,11.8,12.6],
[12.4,12.1,11.6,11.05,10.55,10.05,9.6,9.35,9.5,10.0,10.8,11.4],
[12.5,12.25,11.85,11.35,10.9,10.4,9.95,9.75,9.9,10.45,11.35,12.0]];

// ---------- panel registry ----------
const PANELS = [
  {tag:'(11)',  sub:'(k)', dotted:false, bar:k_bar, mo:k_mean_orange, mg:k_mean_green, po:k_paths_orange, pg:k_paths_green},
  {tag:'(S12)', sub:'(l)', dotted:true,  bar:l_bar, mo:l_mean_orange, mg:l_mean_green, po:l_paths_orange, pg:l_paths_green},
  {tag:'(13)',  sub:'(m)', dotted:false, bar:m_bar, mo:m_mean_orange, mg:m_mean_green, po:m_paths_orange, pg:m_paths_green},
  {tag:'(14)',  sub:'(n)', dotted:true,  bar:n_bar, mo:n_mean_orange, mg:n_mean_green, po:n_paths_orange, pg:n_paths_green},
  {tag:'(15)',  sub:'(o)', dotted:false, bar:o_bar, mo:o_mean_orange, mg:o_mean_green, po:o_paths_orange, pg:o_paths_green},
  {tag:'(16)',  sub:'(p)', dotted:true,  bar:p_bar, mo:p_mean_orange, mg:p_mean_green, po:p_paths_orange, pg:p_paths_green},
  {tag:'(17)',  sub:'(q)', dotted:false, bar:q_bar, mo:q_mean_orange, mg:q_mean_green, po:q_paths_orange, pg:q_paths_green},
  {tag:'(18)',  sub:'(r)', dotted:true,  bar:r_bar, mo:r_mean_orange, mg:r_mean_green, po:r_paths_orange, pg:r_paths_green},
  {tag:'(19)',  sub:'(s)', dotted:false, bar:s_bar, mo:s_mean_orange, mg:s_mean_green, po:s_paths_orange, pg:s_paths_green},
  {tag:'(20)',  sub:'(t)', dotted:true,  bar:t_bar, mo:t_mean_orange, mg:t_mean_green, po:t_paths_orange, pg:t_paths_green}
];

// ---------- layout / style ----------
const GRID_LEFT = [63, 615];
const GRID_TOP = [16, 328.25, 640.5, 952.75, 1265];
const GW = 473, GH = 175;
const SUB_X = [272, 824];
const SANS = '"Liberation Sans", Arial, sans-serif';
const SERIF = '"Liberation Serif", "Times New Roman", serif';
const ORANGE = '#f5801a';
const GREEN = '#2fdc2f';
const BLUE = '#0a18f2';
const NP = PANELS.length;

const grids = [], xAxes = [], yAxes = [], series = [], graphics = [];
const tickCommon = {
  axisLine:{show:true, onZero:false, lineStyle:{color:'#000', width:1}},
  axisTick:{show:true, inside:true, length:5, lineStyle:{color:'#000', width:1}},
  minorTick:{show:true, splitNumber:2, length:4, lineStyle:{color:'#000', width:1}},
  splitLine:{show:false}, minorSplitLine:{show:false}
};
const yLabelBase = {show:true, color:'#000', fontSize:20, fontFamily:SANS, margin:7,
  showMinLabel:true, showMaxLabel:true, hideOverlap:false};

PANELS.forEach((p, i) => {
  const col = i % 2, row = Math.floor(i / 2);
  const left = GRID_LEFT[col], top = GRID_TOP[row];
  grids.push({left:left, top:top, width:GW, height:GH, containLabel:false});
  xAxes.push(Object.assign({gridIndex:i, type:'value', position:'bottom',
    min:X_TICKS[0], max:X_TICKS[X_TICKS.length-1], interval:1,
    axisLabel:{show:true, color:'#000', fontSize:20, fontFamily:SANS, margin:5,
      showMinLabel:true, showMaxLabel:true, hideOverlap:false},
    name:'X (m)', nameLocation:'middle', nameGap:25,
    nameTextStyle:{color:'#000', fontSize:20, fontFamily:SANS}}, tickCommon));
  xAxes.push(Object.assign({gridIndex:i, type:'value', position:'top',
    min:X_TICKS[0], max:X_TICKS[X_TICKS.length-1], interval:1,
    axisLabel:{show:false}}, tickCommon));
  // even tick labels on the main left axis
  yAxes.push(Object.assign({gridIndex:i, type:'value', position:'left',
    min:Y_TICKS[0], max:Y_TICKS[Y_TICKS.length-1], interval:1,
    axisLabel:Object.assign({}, yLabelBase, {formatter: v => (v % 2 === 0 ? String(v) : '')}),
    name:'Y (m)', nameLocation:'middle', nameGap:35, nameRotate:90,
    nameTextStyle:{color:'#000', fontSize:20, fontFamily:SANS}}, tickCommon));
  yAxes.push(Object.assign({gridIndex:i, type:'value', position:'right',
    min:Y_TICKS[0], max:Y_TICKS[Y_TICKS.length-1], interval:1,
    axisLabel:{show:false}}, tickCommon));

  const xa = 2*i, ya = 2*i;
  const lineType = p.dotted ? [1.3, 1.4] : 'solid';
  const addPaths = (paths, color) => paths.forEach(path => {
    series.push({type:'line', xAxisIndex:xa, yAxisIndex:ya, silent:true, animation:false,
      smooth:0.35, symbol:'none', showSymbol:false, z:2,
      lineStyle:{color:color, width:p.dotted ? 1.3 : 1.1, type:lineType, opacity:p.dotted ? 0.85 : 0.75},
      data: PATH_X.map((x, j) => [x, path[j]])});
  });
  addPaths(p.po, ORANGE);
  addPaths(p.pg, GREEN);

  series.push({type:'line', xAxisIndex:xa, yAxisIndex:ya, silent:true, animation:false,
    symbol:'none', z:4, lineStyle:{color:'#000', width:3},
    data:[[7, p.bar[0]], [7, p.bar[1]]]});

  const meanSeries = (vals) => ({type:'scatter', xAxisIndex:xa, yAxisIndex:ya, silent:true,
    animation:false, symbol:'circle', symbolSize:5, z:6,
    itemStyle:{color:BLUE, opacity:1},
    data: vals.map((y, j) => [Math.round(j * MEAN_STEP * 10) / 10, y])});
  series.push(meanSeries(p.mo));
  series.push(meanSeries(p.mg));

  graphics.push({type:'text', x:left + 11, y:top + 22, z:10,
    style:{text:p.tag, font:'23px ' + SERIF, fill:'#000', align:'left', verticalAlign:'middle',
           textAlign:'left', textVerticalAlign:'middle'}});
  graphics.push({type:'text', x:SUB_X[col], y:top + 254, z:10,
    style:{text:p.sub, font:'22px ' + SERIF, fill:'#000', align:'center', verticalAlign:'middle',
           textAlign:'center', textVerticalAlign:'middle'}});
});

// overlay grids carrying the odd y tick labels (so no label is auto-hidden)
PANELS.forEach((p, i) => {
  const col = i % 2, row = Math.floor(i / 2);
  grids.push({left:GRID_LEFT[col], top:GRID_TOP[row], width:GW, height:GH, containLabel:false});
  xAxes.push({gridIndex:NP + i, type:'value', min:X_TICKS[0], max:X_TICKS[X_TICKS.length-1], show:false});
  yAxes.push({gridIndex:NP + i, type:'value', position:'left',
    min:Y_TICKS[0], max:Y_TICKS[Y_TICKS.length-1], interval:1,
    axisLine:{show:false}, axisTick:{show:false}, splitLine:{show:false},
    axisLabel:Object.assign({}, yLabelBase, {formatter: v => (v % 2 === 1 ? String(v) : '')})});
});

const chart = echarts.init(document.getElementById('c'), null, {renderer:'canvas'});
chart.setOption({
  backgroundColor:'#fff',
  animation:false,
  grid:grids, xAxis:xAxes, yAxis:yAxes, series:series, graphic:graphics
});
</script></body></html>
